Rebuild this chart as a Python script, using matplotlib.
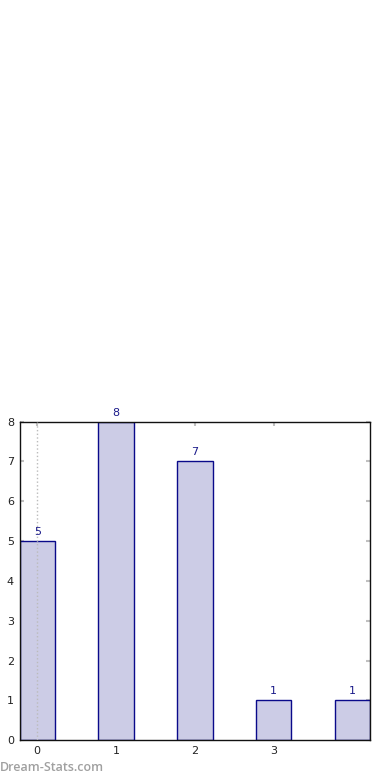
import numpy as np
import matplotlib
matplotlib.use('Agg')
from matplotlib import pyplot as plt

# ------------------ data ------------------
positions = [0, 1, 2, 3, 4]
counts = [5, 8, 7, 1, 1]
xtick_vals = [0, 1, 2, 3]
ytick_vals = [0, 1, 2, 3, 4, 5, 6, 7, 8]

bar_w = 0.45
fill_c = '#ccccE6'
edge_c = '#0a0a8a'

fig = plt.figure(figsize=(3.9, 7.8), dpi=100)
ax = fig.add_axes([0.05, 0.0509, 0.8995, 0.4085])

ax.bar(positions, counts, width=bar_w, color=fill_c, edgecolor=edge_c, linewidth=1.0, zorder=2)
ax.axvline(0, color='#bbbbbb', linestyle=':', linewidth=1.0, zorder=3)

for x, c in zip(positions, counts):
    ax.annotate(str(c), (x, c), xytext=(0, 3), textcoords='offset points',
                ha='center', va='bottom', fontsize=8, color='#1a1a8a')

ax.set_xlim(-bar_w / 2, positions[-1] + bar_w / 2)
ax.set_ylim(0, max(counts))
ax.set_xticks(xtick_vals)
ax.set_yticks(ytick_vals)
ax.tick_params(direction='in', length=3, width=1.5, color='#c0c0c0', labelsize=8,
               labelcolor='#222222', top=True, right=True, pad=4)
for s in ax.spines.values():
    s.set_linewidth(1.0)
    s.set_color('#111111')

fig.text(0.0, 0.008, 'Dream-Stats.com', fontsize=9, family='Open Sans', fontweight='semibold',
         color='#a0a0a0', ha='left', va='bottom')

fig.savefig('out.png', dpi=100)
